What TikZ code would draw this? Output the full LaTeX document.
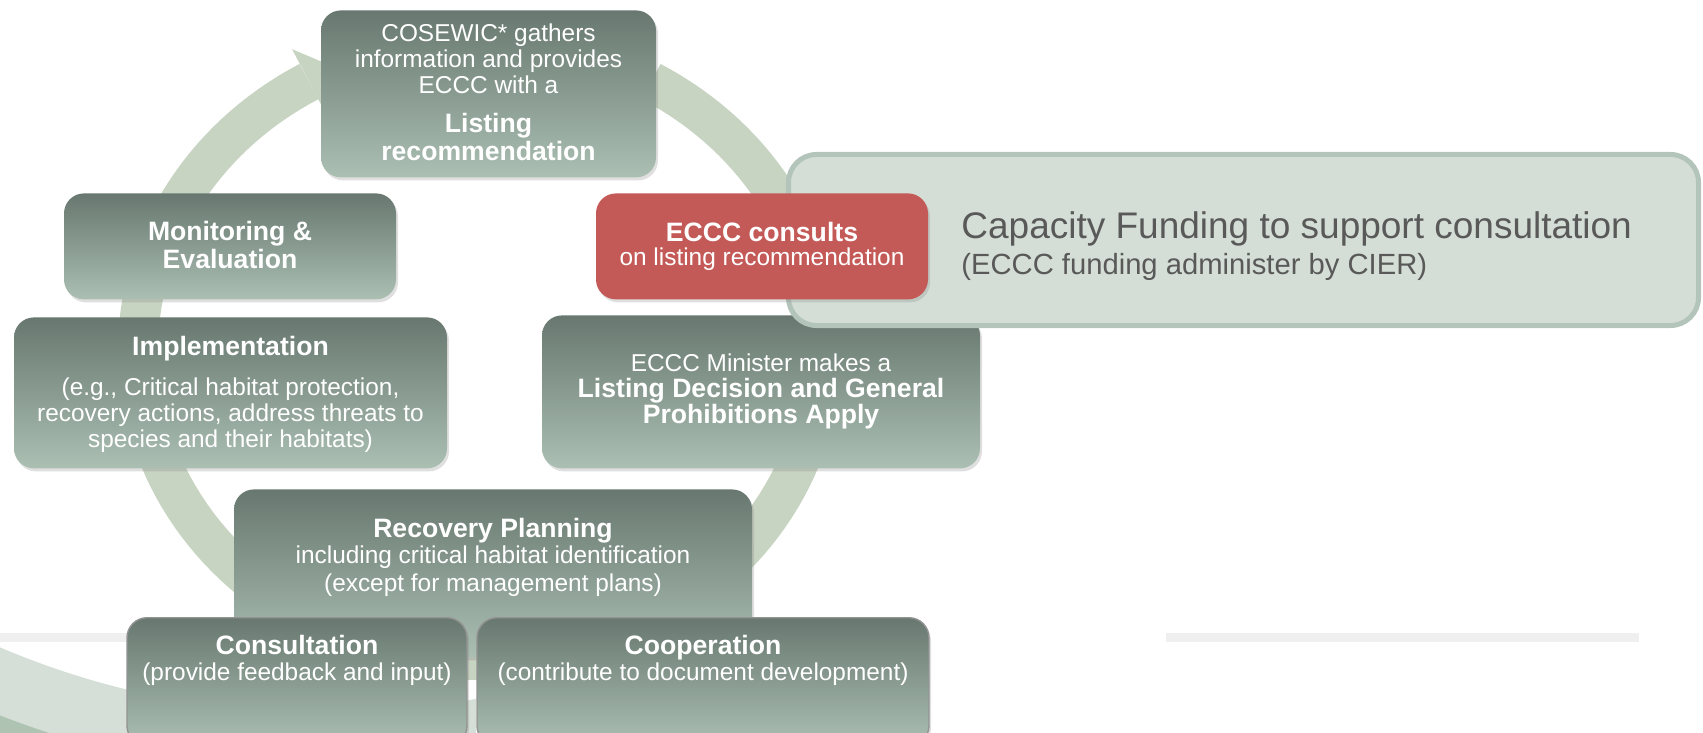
\documentclass[tikz,border=0pt]{standalone}
\usepackage{fontspec}
\setmainfont{Liberation Sans}
\usetikzlibrary{shadows}

\definecolor{ringgreen}{HTML}{C8D4C2}
\definecolor{boxtop}{HTML}{687870}
\definecolor{boxbottom}{HTML}{ABBFB3}
\definecolor{consultred}{HTML}{C45A57}
\definecolor{capfill}{HTML}{D4DED6}
\definecolor{capborder}{HTML}{B3C4BA}
\definecolor{captext}{HTML}{595959}
\definecolor{rulegrey}{HTML}{EFEFEF}
\definecolor{swooshpale}{HTML}{D5DFD7}
\definecolor{swooshdark}{HTML}{AFC3B3}

\newcommand{\rg}{\fontsize{12.2}{13}\selectfont}
\newcommand{\bd}{\fontsize{13.3}{14}\selectfont\bfseries}

\tikzset{
  roundbox/.style={rounded corners=10pt, text=white, align=center, font=\rg,
    anchor=north, inner xsep=4pt, inner ysep=0pt,
    drop shadow={opacity=0.25, shadow xshift=1pt, shadow yshift=-1.5pt}},
  cyclebox/.style={roundbox, top color=boxtop, bottom color=boxbottom},
  redbox/.style={roundbox, fill=consultred},
  sidebox/.style={cyclebox, draw=gray!85, line width=0.7pt},
  ringarc/.style={ringgreen, line width=20pt}
}

\begin{document}
\begin{tikzpicture}[x=0.5pt, y=-0.5pt]
  \useasboundingbox (0,0) rectangle (1703,733);

  % swoosh in the corner
  \begin{scope}
    \clip (0,600) rectangle (476,733);
    \fill[swooshpale, even odd rule] (-100,500) rectangle (600,900) (323,-112) circle[radius=825];
    \fill[swooshdark, even odd rule] (-100,500) rectangle (600,900) (323,-112) circle[radius=888];
  \end{scope}
  \fill[rulegrey] (0,633) rectangle (470,642);
  \fill[rulegrey] (1166,633) rectangle (1639,642);

  % cycle ring
  \draw[ringarc] plot[domain=85:240, samples=80] ({480+342*cos(\x)}, {350+310*sin(\x)});
  \fill[ringgreen] (292.1,49.2) -- (335.6,67.6) -- (325.9,113.8) -- cycle;
  \draw[ringarc] plot[domain=300:455, samples=80] ({480+342*cos(\x)}, {350+310*sin(\x)});

  % stages
  \node[cyclebox, minimum width=167.5pt, text height=75pt, text depth=8.5pt] (cosewic) at (488.5,10)
    {COSEWIC* gathers\\information and provides\\ECCC with a\\[6.5pt]{\bd Listing}\\[1pt]{\bd recommendation}};
  \node[cyclebox, minimum width=166pt, text height=37.5pt, text depth=15.5pt] (monitor) at (230,193)
    {{\bd Monitoring \&}\\[1pt]{\bd Evaluation}};
  \node[cyclebox, minimum width=216.5pt, text height=65pt, text depth=10.5pt] (implement) at (230.5,317)
    {{\bd Implementation}\\[7pt](e.g., Critical habitat protection,\\recovery actions, address threats to\\species and their habitats)};
  \node[cyclebox, minimum width=219pt, text height=54pt, text depth=22.5pt] (minister) at (761,315)
    {ECCC Minister makes a\\{\bd Listing Decision and General}\\{\bd Prohibitions Apply}};
  \node[cyclebox, minimum width=259pt, text height=51pt, text depth=33pt] (recovery) at (493,489)
    {{\bd Recovery Planning}\\including critical habitat identification\\[1pt](except for management plans)};
  \node[sidebox, minimum width=170pt, text height=31.5pt, text depth=32.5pt] (consultation) at (297,617)
    {{\bd Consultation}\\(provide feedback and input)};
  \node[sidebox, minimum width=226pt, text height=31.5pt, text depth=32.5pt] (cooperation) at (703,617)
    {{\bd Cooperation}\\(contribute to document development)};

  % funding callout
  \node[draw=capborder, fill=capfill, line width=2.5pt, rounded corners=14pt,
    minimum width=455pt, minimum height=85.5pt, inner sep=0pt] (capacity) at (1243.5,240) {};
  \node[anchor=base west, inner sep=0pt, text=captext, font=\fontsize{18.5}{20}\selectfont]
    (captitle) at (961,238) {Capacity Funding to support consultation};
  \node[anchor=base west, inner sep=0pt, text=captext, font=\fontsize{14.6}{16}\selectfont]
    (capnote) at (961,274) {(ECCC funding administer by CIER)};

  \node[redbox, minimum width=166pt, text height=36pt, text depth=17pt] (consults) at (762,193)
    {{\bd ECCC consults}\\[-1pt]on listing recommendation};
\end{tikzpicture}
\end{document}
